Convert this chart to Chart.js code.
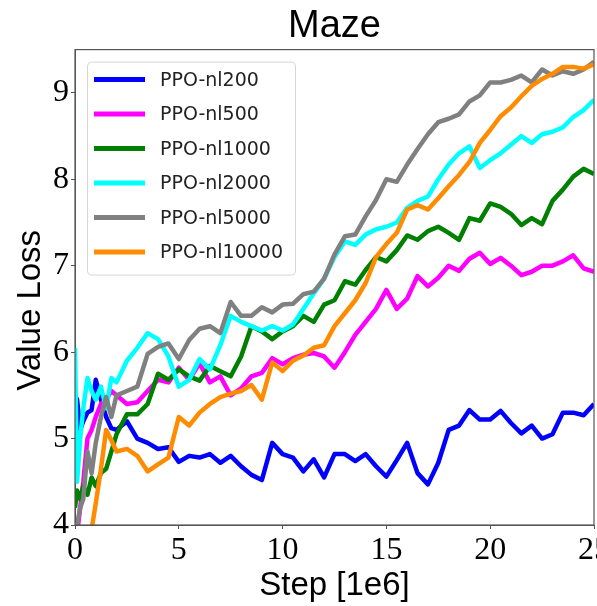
<!DOCTYPE html>
<html>
<head>
<meta charset="utf-8">
<script src="https://cdn.jsdelivr.net/npm/chart.js@4"></script>
<style>
  html, body { margin: 0; padding: 0; background: #fff; }
  #wrap { width: 597px; height: 606px; }
</style>
</head>
<body>
<div id="wrap"><canvas id="lossChart"></canvas></div>
<script>
// training step in millions
const steps = [0, 0.1, 0.25, 0.4, 0.6, 0.8, 1, 1.25, 1.5, 1.75, 2,
  2.5, 3, 3.5, 4, 4.5, 5, 5.5, 6, 6.5, 7, 7.5, 8, 8.5, 9, 9.5, 10,
  10.5, 11, 11.5, 12, 12.5, 13, 13.5, 14, 14.5, 15, 15.5, 16, 16.5, 17, 17.5, 18,
  18.5, 19, 19.5, 20, 20.5, 21, 21.5, 22, 22.5, 23, 23.5, 24, 24.5, 25];

const seriesNames = ['PPO-nl200', 'PPO-nl500', 'PPO-nl1000', 'PPO-nl2000', 'PPO-nl5000', 'PPO-nl10000'];

const nl200 = [5.5, 5.45, 5.1, 5.2, 5.3, 5.33, 5.68, 5.45, 5.25, 5.12, 5.1,
  5.2, 5.0, 4.95, 4.88, 4.9, 4.73, 4.8, 4.78, 4.82, 4.72, 4.8, 4.68, 4.58, 4.52, 4.95, 4.82,
  4.78, 4.62, 4.76, 4.55, 4.82, 4.82, 4.74, 4.82, 4.68, 4.56, 4.75, 4.95, 4.6, 4.47, 4.72, 5.1,
  5.15, 5.33, 5.22, 5.22, 5.32, 5.18, 5.06, 5.15, 5.0, 5.05, 5.3, 5.3, 5.27, 5.4];
const nl500 = [3.7, 3.9, 4.2, 4.5, 5.0, 5.1, 5.25, 5.4, 5.45, 5.55, 5.5,
  5.4, 5.42, 5.55, 5.68, 5.65, 5.82, 5.68, 5.87, 5.65, 5.72, 5.5, 5.58, 5.72, 5.76, 5.93, 5.86,
  5.93, 5.97, 5.99, 5.95, 5.82, 6.0, 6.2, 6.35, 6.5, 6.72, 6.5, 6.62, 6.88, 6.76, 6.86, 7.0,
  6.94, 7.08, 7.15, 7.02, 7.09, 7.0, 6.89, 6.93, 7.0, 7.0, 7.05, 7.12, 6.97, 6.93];
const nl1000 = [4.2, 4.4, 4.3, 4.45, 4.35, 4.55, 4.45, 4.6, 4.65, 4.85, 5.05,
  5.28, 5.28, 5.4, 5.75, 5.68, 5.8, 5.72, 5.67, 5.84, 5.78, 5.72, 5.95, 6.3, 6.24, 6.15, 6.24,
  6.3, 6.42, 6.35, 6.55, 6.6, 6.82, 6.78, 6.95, 7.1, 7.05, 7.18, 7.35, 7.3, 7.4, 7.45, 7.38,
  7.3, 7.55, 7.52, 7.72, 7.68, 7.6, 7.47, 7.55, 7.48, 7.75, 7.88, 8.03, 8.12, 8.06];
const nl2000 = [6.05, 4.5, 5.0, 5.35, 5.7, 5.55, 5.45, 5.6, 5.35, 5.7, 5.65,
  5.9, 6.05, 6.22, 6.15, 5.95, 5.6, 5.68, 5.92, 5.8, 6.08, 6.42, 6.35, 6.3, 6.25, 6.3, 6.25,
  6.32, 6.5, 6.68, 6.85, 7.1, 7.28, 7.24, 7.36, 7.42, 7.45, 7.5, 7.67, 7.75, 7.8, 8.0, 8.17,
  8.3, 8.38, 8.13, 8.22, 8.3, 8.4, 8.5, 8.42, 8.52, 8.55, 8.6, 8.72, 8.8, 8.92];
const nl5000 = [3.8, 4.0, 4.2, 4.3, 4.85, 4.6, 4.95, 5.25, 5.48, 5.25, 5.5,
  5.55, 5.6, 5.98, 6.06, 6.1, 5.92, 6.14, 6.27, 6.3, 6.22, 6.58, 6.42, 6.42, 6.52, 6.46, 6.55,
  6.56, 6.67, 6.7, 6.85, 7.13, 7.34, 7.36, 7.57, 7.76, 8.0, 7.97, 8.17, 8.35, 8.52, 8.66, 8.7,
  8.75, 8.9, 8.97, 9.12, 9.12, 9.15, 9.2, 9.12, 9.27, 9.2, 9.25, 9.22, 9.27, 9.36];
const nl10000 = [3.2, 3.3, 3.4, 3.5, 3.7, 3.95, 4.25, 4.65, 5.1, 4.98, 4.85,
  4.88, 4.8, 4.62, 4.7, 4.78, 5.25, 5.15, 5.3, 5.4, 5.48, 5.52, 5.55, 5.62, 5.45, 5.88, 5.78,
  5.9, 5.96, 6.05, 6.08, 6.3, 6.45, 6.6, 6.8, 7.1, 7.25, 7.38, 7.65, 7.7, 7.65, 7.78, 7.92,
  8.05, 8.2, 8.42, 8.57, 8.73, 8.83, 8.96, 9.08, 9.16, 9.22, 9.3, 9.3, 9.28, 9.33];

const allSeries = [nl200, nl500, nl1000, nl2000, nl5000, nl10000];
const colors = ['#0000ff', '#ff00ff', '#008000', '#00ffff', '#808080', '#ff8c00'];
const yTitle = 'Value Loss';

const axisColor = '#555';
const tickFont = { family: '"Liberation Serif", serif', size: 32 };
const labelFont = { family: '"Liberation Sans", sans-serif', size: 33, lineHeight: 1 };

// box around the whole plot area (matplotlib style)
const framePlugin = {
  id: 'frame',
  afterDatasetsDraw(chart) {
    const { ctx, chartArea: a } = chart;
    ctx.save();
    ctx.strokeStyle = axisColor;
    ctx.lineWidth = 1.2;
    ctx.strokeRect(a.left, a.top, a.right - a.left, a.bottom - a.top);
    ctx.restore();
  }
};

// y axis label, sits a bit below the middle in the original
const yTitlePlugin = {
  id: 'yTitle',
  afterDraw(chart) {
    const { ctx, chartArea: a } = chart;
    ctx.save();
    ctx.translate(31, (a.top + a.bottom) / 2 + 23);
    ctx.rotate(-Math.PI / 2);
    ctx.font = '33px "Liberation Sans"';
    ctx.fillStyle = '#000';
    ctx.textAlign = 'center';
    ctx.textBaseline = 'middle';
    ctx.fillText(yTitle, 0, 0);
    ctx.restore();
  }
};

// legend drawn inside the upper left corner
const legendPlugin = {
  id: 'innerLegend',
  afterDraw(chart) {
    const { ctx, chartArea: a } = chart;
    const x = a.left + 12, y = a.top + 12, w = 208, h = 213;
    ctx.save();
    ctx.fillStyle = 'rgba(255,255,255,0.85)';
    ctx.strokeStyle = '#d6d6d6';
    ctx.lineWidth = 1;
    ctx.beginPath();
    ctx.roundRect(x + 0.5, y + 0.5, w, h, 4);
    ctx.fill();
    ctx.stroke();
    ctx.font = '19px "DejaVu Sans"';
    ctx.textBaseline = 'middle';
    chart.data.datasets.forEach((ds, i) => {
      const cy = y + 18 + i * 34.5;
      ctx.strokeStyle = ds.borderColor;
      ctx.lineWidth = 5;
      ctx.beginPath();
      ctx.moveTo(x + 7, cy);
      ctx.lineTo(x + 58, cy);
      ctx.stroke();
      ctx.fillStyle = '#222';
      ctx.fillText(ds.label, x + 73, cy + 1);
    });
    ctx.restore();
  }
};

const ctx = document.getElementById('lossChart').getContext('2d');

new Chart(ctx, {
  type: 'line',
  data: {
    datasets: allSeries.map((vals, i) => ({
      label: seriesNames[i],
      data: steps.map((s, j) => ({ x: s, y: vals[j] })),
      borderColor: colors[i],
      backgroundColor: colors[i],
      borderWidth: 4.5,
      pointRadius: 0,
      tension: 0,
      borderJoinStyle: 'round',
      clip: 0,
      order: allSeries.length - i   // later series drawn on top
    }))
  },
  options: {
    responsive: true,
    maintainAspectRatio: false,
    animation: false,
    layout: { padding: { top: 0, right: 3, left: 0, bottom: 0 } },
    plugins: {
      legend: { display: false },
      tooltip: { enabled: false },
      title: {
        display: true,
        text: 'Maze',
        fullSize: false,
        color: '#000',
        font: { family: '"Liberation Sans", sans-serif', size: 38, weight: 'normal', lineHeight: 1.2 },
        padding: { top: 4, bottom: 0 }
      }
    },
    scales: {
      x: {
        type: 'linear',
        min: 0,
        max: 25,
        ticks: { stepSize: 5, font: tickFont, color: '#000', padding: 2, maxRotation: 0 },
        grid: { drawOnChartArea: false, tickLength: 4, color: axisColor },
        border: { color: axisColor },
        title: { display: true, text: 'Step [1e6]', color: '#000', font: labelFont, padding: { top: 0, bottom: 4 } },
        afterFit(s) { s.height = 81; s.paddingLeft = 0; s.paddingRight = 0; }
      },
      y: {
        min: 4,
        max: 9.5,
        afterBuildTicks(s) { s.ticks = s.ticks.filter(t => Number.isInteger(t.value)); },
        ticks: { stepSize: 1, font: tickFont, color: '#000', padding: 2 },
        grid: { drawOnChartArea: false, tickLength: 4, color: axisColor },
        border: { color: axisColor },
        title: { display: false },
        afterFit(s) { s.width = 75; s.paddingTop = 0; s.paddingBottom = 0; }
      }
    }
  },
  plugins: [framePlugin, yTitlePlugin, legendPlugin]
});
</script>
</body>
</html>
